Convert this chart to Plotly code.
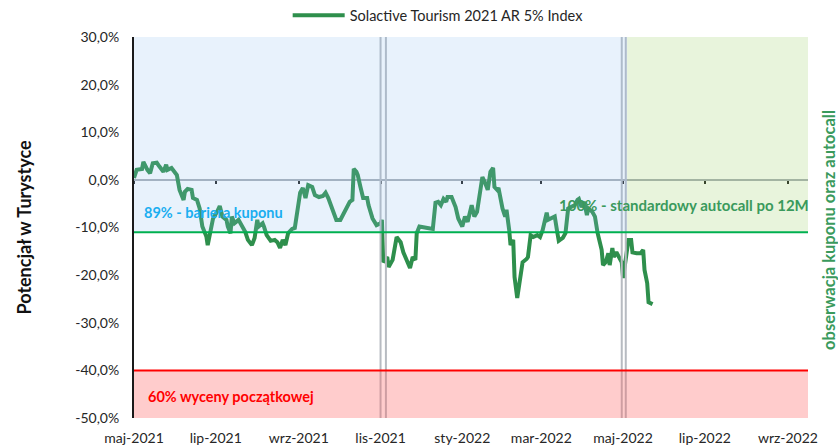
import plotly.graph_objects as go

# --- Index performance vs. initial level (%), by observation day ---
dates = [
    # 2021
    "2021-05-01", "2021-05-03", "2021-05-07", "2021-05-08", "2021-05-11", "2021-05-13", "2021-05-15",
    "2021-05-18", "2021-05-20", "2021-05-23", "2021-05-25", "2021-05-26", "2021-05-29",
    "2021-06-01", "2021-06-02", "2021-06-04", "2021-06-07", "2021-06-08", "2021-06-10", "2021-06-13",
    "2021-06-14", "2021-06-17", "2021-06-19", "2021-06-21", "2021-06-24", "2021-06-25", "2021-06-27", "2021-06-29",
    "2021-07-02", "2021-07-04", "2021-07-06", "2021-07-09", "2021-07-10", "2021-07-12", "2021-07-13",
    "2021-07-15", "2021-07-18", "2021-07-21", "2021-07-23", "2021-07-25", "2021-07-28", "2021-07-30",
    "2021-08-01", "2021-08-02", "2021-08-05", "2021-08-06", "2021-08-08", "2021-08-11", "2021-08-14",
    "2021-08-16", "2021-08-18", "2021-08-20", "2021-08-22", "2021-08-24", "2021-08-27", "2021-08-29", "2021-08-31",
    "2021-09-02", "2021-09-04", "2021-09-06", "2021-09-08", "2021-09-11", "2021-09-13", "2021-09-16",
    "2021-09-19", "2021-09-21", "2021-09-23", "2021-09-26", "2021-09-29",
    "2021-10-02", "2021-10-04", "2021-10-07", "2021-10-09", "2021-10-11", "2021-10-12", "2021-10-14",
    "2021-10-15", "2021-10-17", "2021-10-19", "2021-10-22", "2021-10-23", "2021-10-26", "2021-10-29",
    "2021-11-01", "2021-11-02", "2021-11-03", "2021-11-06", "2021-11-07", "2021-11-10", "2021-11-13",
    "2021-11-16", "2021-11-18", "2021-11-21", "2021-11-23", "2021-11-25", "2021-11-27", "2021-11-28", "2021-11-30",
    "2021-12-06", "2021-12-10", "2021-12-12", "2021-12-14", "2021-12-16", "2021-12-18", "2021-12-20",
    "2021-12-21", "2021-12-24", "2021-12-27", "2021-12-29",
    # 2022
    "2022-01-01", "2022-01-03", "2022-01-05", "2022-01-08", "2022-01-10", "2022-01-12", "2022-01-14",
    "2022-01-16", "2022-01-18", "2022-01-20", "2022-01-22", "2022-01-24", "2022-01-25", "2022-01-27",
    "2022-01-28", "2022-01-31",
    "2022-02-02", "2022-02-03", "2022-02-05", "2022-02-06", "2022-02-08", "2022-02-09", "2022-02-11",
    "2022-02-13", "2022-02-15", "2022-02-18", "2022-02-19", "2022-02-21", "2022-02-23", "2022-02-26", "2022-02-28",
    "2022-03-02", "2022-03-05", "2022-03-06", "2022-03-09", "2022-03-11", "2022-03-13", "2022-03-14",
    "2022-03-17", "2022-03-19", "2022-03-21", "2022-03-24", "2022-03-26", "2022-03-28", "2022-03-29", "2022-03-31",
    "2022-04-02", "2022-04-04", "2022-04-05", "2022-04-08", "2022-04-10", "2022-04-12", "2022-04-15",
    "2022-04-16", "2022-04-18", "2022-04-20", "2022-04-21", "2022-04-23", "2022-04-24", "2022-04-26",
    "2022-04-28", "2022-04-30",
    "2022-05-01", "2022-05-03", "2022-05-05", "2022-05-07", "2022-05-08", "2022-05-11", "2022-05-14",
    "2022-05-16", "2022-05-17", "2022-05-19", "2022-05-20", "2022-05-23",
]
values = [
    0.4, 2.1, 2.3, 3.8, 2.1, 1.4, 3.5, 3.6, 2.8, 1.7, 3.2, 2.1, 2.5,
    1.4, 1.0, -2.1, -4.2, -2.5, -1.9, -2.1, -3.8, -4.2, -6.0, -9.8, -11.9, -13.7, -10.5, -8.1,
    -6.7, -5.5, -7.7, -8.4, -9.8, -11.2, -7.7, -9.1, -8.4, -9.8, -10.9, -12.6, -13.7, -12.2,
    -8.4, -9.8, -9.1, -9.8, -11.6, -12.8, -12.6, -13.1, -14.3, -12.6, -13.7, -11.2, -10.3, -10.1, -6.3,
    -2.7, -1.7, -3.8, -1.1, -1.5, -3.2, -3.6, -3.4, -2.7, -3.8, -6.3, -8.4,
    -8.4, -7.4, -5.7, -4.6, -4.2, 2.3, 1.7, 1.0, -1.5, -3.8, -3.8, -5.3, -8.1, -9.5,
    -9.1, -8.4, -17.3, -16.2, -18.3, -16.8, -12.0, -13.1, -15.2, -17.5, -18.5, -16.2, -16.8, -11.2, -9.8,
    -10.1, -10.3, -4.8, -4.6, -5.3, -4.0, -4.6, -3.6, -3.6, -5.7, -8.1,
    -9.8, -7.7, -8.8, -5.3, -7.7, -6.7, -3.6, 0.6, -0.6, -2.1, 1.7, 2.5, -1.5, -2.1, -1.7, -6.0,
    -7.7, -6.3, -10.5, -13.7, -12.6, -20.4, -24.8, -21.1, -17.3, -16.6, -16.2, -11.6, -12.0, -11.6, -12.0,
    -10.5, -6.9, -8.4, -8.1, -7.7, -11.2, -12.8, -12.2, -11.2, -6.0, -5.5, -5.3, -4.2, -4.0, -5.7,
    -4.6, -7.4, -6.0, -6.7, -7.7, -11.2, -14.7, -17.9, -17.3, -15.4, -17.9, -14.3, -16.2, -15.2, -16.4, -17.3,
    -20.6, -15.8, -12.6, -12.6, -15.2, -15.4, -15.4, -14.7, -18.9, -21.7, -25.7, -26.1,
]
assert len(dates) == len(values)

series_name = "Solactive Tourism 2021 AR 5% Index"

tick_dates = ["2021-05-01", "2021-07-01", "2021-09-01", "2021-11-01", "2022-01-01",
              "2022-03-01", "2022-05-01", "2022-07-01", "2022-09-01"]
tick_labels = ["maj-2021", "lip-2021", "wrz-2021", "lis-2021", "sty-2022",
               "mar-2022", "maj-2022", "lip-2022", "wrz-2022"]
y_ticks = [30, 20, 10, 0, -10, -20, -30, -40, -50]
y_tick_labels = ["30,0%", "20,0%", "10,0%", "0,0%", "-10,0%", "-20,0%", "-30,0%", "-40,0%", "-50,0%"]

observation_dates = ["2021-11-01", "2021-11-05", "2022-04-30", "2022-05-03"]
coupon_barrier = -11        # 89% of initial level
capital_barrier = -40       # 60% of initial level
autocall_from = "2022-05-04"
x_range = ["2021-05-01", "2022-09-16"]
y_range = [-50, 30]

FONT = "Lato"
TEXT = "#262626"
LINE_GREEN = "#2E8F4C"
LABEL_GREEN = "#3A9A5C"

fig = go.Figure()

fig.add_trace(go.Scatter(
    x=dates, y=values, mode="lines", name=series_name,
    line=dict(color=LINE_GREEN, width=4), hoverinfo="skip",
))
# carrier trace for the zero-level axis
fig.add_trace(go.Scatter(x=[], y=[], xaxis="x2", showlegend=False, hoverinfo="skip"))

shapes = []
# observation date markers (double vertical lines)
for d in observation_dates:
    shapes.append(dict(type="line", xref="x", yref="y", x0=d, x1=d, y0=y_range[0], y1=y_range[1],
                       line=dict(color="#B7BBC1", width=2), layer="above"))
# zones
shapes.append(dict(type="rect", xref="x", yref="y", x0=x_range[0], x1=autocall_from,
                   y0=coupon_barrier, y1=y_range[1], line=dict(width=0),
                   fillcolor="rgba(140,190,240,0.2)", layer="above"))
shapes.append(dict(type="rect", xref="x", yref="y", x0=autocall_from, x1=x_range[1],
                   y0=coupon_barrier, y1=y_range[1], line=dict(width=0),
                   fillcolor="rgba(140,200,80,0.2)", layer="above"))
shapes.append(dict(type="rect", xref="x", yref="y", x0=x_range[0], x1=x_range[1],
                   y0=y_range[0], y1=capital_barrier, line=dict(width=0),
                   fillcolor="rgba(255,100,100,0.33)", layer="above"))
# barrier levels
shapes.append(dict(type="line", xref="x", yref="y", x0=x_range[0], x1=x_range[1],
                   y0=coupon_barrier, y1=coupon_barrier,
                   line=dict(color="#00B050", width=2), layer="above"))
shapes.append(dict(type="line", xref="x", yref="y", x0=x_range[0], x1=x_range[1],
                   y0=capital_barrier, y1=capital_barrier,
                   line=dict(color="#FF0000", width=2), layer="above"))

annotations = [
    dict(text="<b>89% - bariera kuponu</b>", xref="x", yref="y", x=x_range[0], y=-6.9,
         xanchor="left", yanchor="middle", xshift=8, showarrow=False,
         font=dict(family=FONT, size=14.5, color="#1AAEF0")),
    dict(text="<b>100% - standardowy autocall po 12M</b>", xref="paper", yref="y", x=1.0, y=-5.3,
         xanchor="right", yanchor="middle", xshift=3, showarrow=False,
         font=dict(family=FONT, size=15, color=LABEL_GREEN)),
    dict(text="<b>60% wyceny początkowej</b>", xref="x", yref="y", x=x_range[0], y=-45.5,
         xanchor="left", yanchor="middle", xshift=12, showarrow=False,
         font=dict(family=FONT, size=14.5, color="#FF0000")),
    dict(text="<b>obserwacja kuponu oraz autocall</b>", xref="paper", yref="y", x=1.0, y=-10.5,
         xanchor="center", yanchor="middle", xshift=21, textangle=-90, showarrow=False,
         font=dict(family=FONT, size=16.5, color=LABEL_GREEN)),
    dict(text="<b>Potencjał w Turystyce</b>", xref="paper", yref="y", x=0.0, y=-10,
         xanchor="center", yanchor="middle", xshift=-111, textangle=-90, showarrow=False,
         font=dict(family=FONT, size=18, color="#111111")),
]

zero_pos = (0 - y_range[0]) / (y_range[1] - y_range[0])

fig.update_layout(
    width=838, height=446,
    margin=dict(l=134, r=30, t=37, b=28, pad=0, autoexpand=False),
    paper_bgcolor="white", plot_bgcolor="white",
    font=dict(family=FONT, size=14, color=TEXT),
    shapes=shapes, annotations=annotations,
    showlegend=True,
    legend=dict(orientation="h", x=0.228, y=1.057, xanchor="left", yanchor="middle",
                font=dict(family=FONT, size=14.5, color=TEXT), bgcolor="rgba(0,0,0,0)",
                itemwidth=52),
    xaxis=dict(type="date", range=x_range, tickvals=tick_dates, ticktext=tick_labels,
               showgrid=False, zeroline=False, showline=False, ticks="", automargin=False,
               tickfont=dict(family=FONT, size=14, color=TEXT), ticklabelstandoff=10),
    xaxis2=dict(type="date", range=x_range, overlaying="x", anchor="free", position=zero_pos,
                side="bottom", tickvals=tick_dates, showticklabels=False, ticks="outside",
                ticklen=3, tickwidth=2, tickcolor="#222222", showline=True,
                linecolor="#A9AFB7", linewidth=2, showgrid=False, zeroline=False,
                layer="below traces", automargin=False),
    yaxis=dict(range=y_range, tickvals=y_ticks, ticktext=y_tick_labels, automargin=False,
               showgrid=False, zeroline=False, showline=True, linecolor="#1A1A1A", linewidth=2,
               ticks="", tickfont=dict(family=FONT, size=14, color=TEXT), ticklabelstandoff=10),
)

fig.write_html("out.html")
